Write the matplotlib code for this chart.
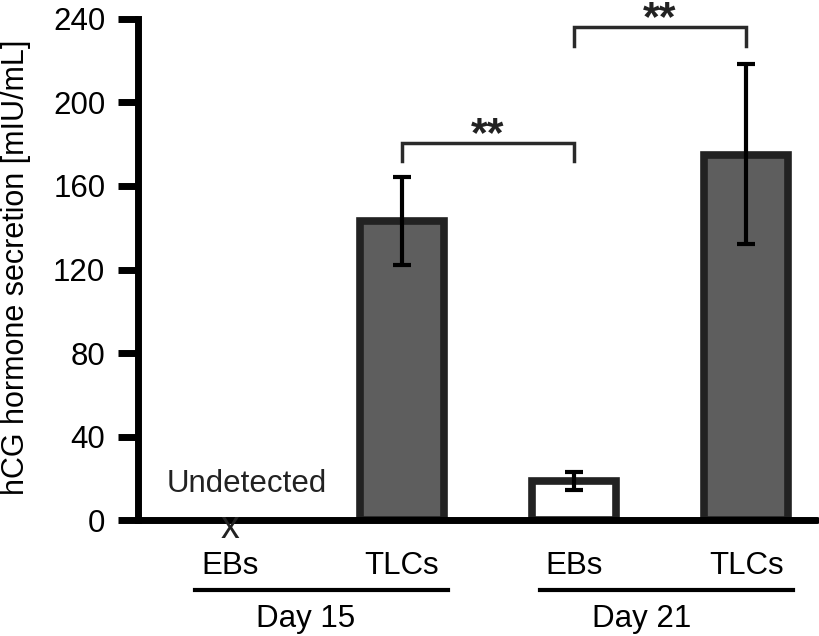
import matplotlib
matplotlib.use("Agg")
from matplotlib import pyplot as plt

plt.rcParams['font.family'] = ['Liberation Sans', 'DejaVu Sans']

# data
groups = ["Day 15", "Day 21"]
cells = ["EBs", "TLCs", "EBs", "TLCs"]
means = [0, 143, 19, 175]
err_low = [0, 21, 4.5, 43]
err_high = [0, 21.5, 4, 43.5]
detected = [False, True, True, True]
fills = ["#ffffff", "#5e5e5e", "#ffffff", "#5e5e5e"]
# significance brackets: (left bar, right bar, line height, drop)
brackets = [(1, 2, 180.5, 172), (2, 3, 236, 227)]

fig = plt.figure(figsize=(8.2, 6.36), dpi=100)
ax = fig.add_axes([0.168, 0.182, 0.828, 0.818])

x = list(range(len(cells)))
for i in x:
    if not detected[i]:
        continue
    ax.bar(i, means[i], width=0.485, color=fills[i], edgecolor="#222222",
           linewidth=5.5, zorder=2)
    ax.errorbar(i, means[i], yerr=[[err_low[i]], [err_high[i]]], fmt="none",
                ecolor="black", elinewidth=3, capsize=6.5, capthick=3, zorder=3)

# undetected sample
ax.text(0, -8.6, "x", ha="center", va="baseline", fontsize=27, color="#222222",
        zorder=6, clip_on=False)
ax.text(0.1, 13.4, "Undetected", ha="center", va="baseline", fontsize=22.5,
        color="#222222")

for a, b, h, d in brackets:
    ax.plot([a, a, b, b], [d, h, h, d], color="#2a2a2a", lw=2.5,
            solid_joinstyle="miter", zorder=3)
    ax.text((a + b) / 2, h - 1.5, "**", ha="center", va="baseline", fontsize=31,
            fontweight="bold", color="#222222")

ax.set_xlim(-0.535, 3.41)
ax.set_ylim(0, 249)
ax.set_yticks(range(0, 241, 40))
ax.set_xticks(x)
ax.set_xticklabels(cells)
ax.tick_params(axis="x", length=0, pad=22, labelsize=22.5)
ax.tick_params(axis="y", length=14.4, width=5, pad=9, labelsize=22.5)

for s in ["top", "right"]:
    ax.spines[s].set_visible(False)
ax.spines["left"].set_bounds(0, 240)
ax.spines["left"].set_linewidth(5)
ax.spines["bottom"].set_linewidth(5)
ax.spines["left"].set_capstyle("projecting")
ax.spines["bottom"].set_capstyle("round")
ax.spines["bottom"].set_zorder(5)

ax.set_ylabel("hCG hormone secretion [mIU/mL]", fontsize=22)
ax.yaxis.set_label_coords(-0.157, 0.487)

# group underlines and day labels below the axis
spans = [(-0.2, 1.27), (1.8, 3.27)]
label_x = [0.44, 2.39]
for (lo, hi), lx, g in zip(spans, label_x, groups):
    ax.plot([lo, hi], [-33.5, -33.5], color="black", lw=3, clip_on=False)
    ax.text(lx, -51.3, g, ha="center", va="baseline", fontsize=22.5)

fig.savefig("out.png", dpi=100)
